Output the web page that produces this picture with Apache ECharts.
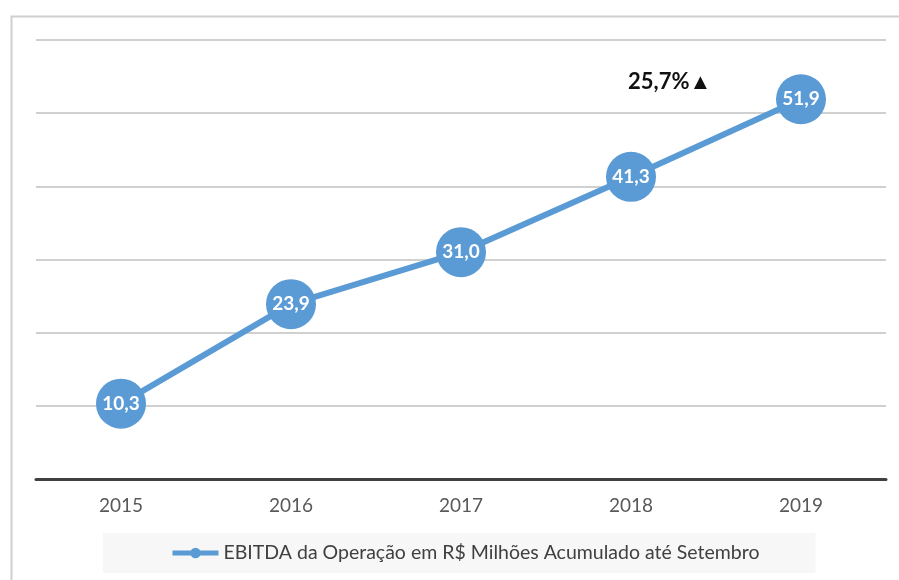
<!DOCTYPE html>
<html>
<head>
<meta charset="utf-8">
<script src="https://cdn.jsdelivr.net/npm/echarts@6/dist/echarts.min.js"></script>
<style>
  html, body { margin: 0; padding: 0; background: #fff; }
  #chart { width: 899px; height: 580px; }
</style>
</head>
<body>
<div id="chart"></div>
<script>
const years  = ["2015", "2016", "2017", "2018", "2019"];
const ebitda = [10.3, 23.9, 31.0, 41.3, 51.9];
const seriesName = "EBITDA da Operação em R$ Milhões Acumulado até Setembro";
const growthLabel = "25,7%▲";

const FONT = "Lato, 'Open Sans', sans-serif";
const BLUE = "#5b9bd5";

const chart = echarts.init(document.getElementById("chart"), null, { renderer: "canvas" });

chart.setOption({
  backgroundColor: "#fff",
  animation: false,
  grid: { left: 36, right: 13, top: 40, bottom: 101 },
  xAxis: {
    type: "category",
    data: years,
    boundaryGap: true,
    axisLine: { lineStyle: { color: "#404040", width: 3 } },
    axisTick: { show: false },
    axisLabel: { color: "#595959", fontSize: 19, fontFamily: FONT, margin: 17 },
  },
  yAxis: {
    type: "value",
    min: 0,
    max: 60,
    interval: 10,
    axisLabel: { show: false },
    axisLine: { show: false },
    axisTick: { show: false },
    splitLine: { lineStyle: { color: "#c0c0c0", width: 1.5 } },
  },
  legend: {
    bottom: 7,
    left: 103,
    data: [seriesName],
    backgroundColor: "#f7f7f7",
    padding: [10, 56, 10, 67],
    itemWidth: 46,
    itemHeight: 13,
    itemGap: 4,
    lineStyle: { width: 5 },
    textStyle: { color: "#404040", fontSize: 19.5, fontFamily: FONT },
  },
  graphic: [
    {
      type: "rect",
      left: 9, top: 14,
      shape: { width: 920, height: 600 },
      style: { fill: "none", stroke: "#cfcfcf", lineWidth: 2 },
      silent: true,
      z: -1,
    },
    {
      type: "text",
      left: 628, top: 71,
      style: { text: growthLabel, fill: "#111", font: "bold 22px " + FONT },
    },
  ],
  series: [
    {
      name: seriesName,
      type: "line",
      data: ebitda,
      symbol: "circle",
      symbolSize: 50,
      lineStyle: { color: BLUE, width: 6 },
      itemStyle: { color: BLUE },
      label: {
        show: true,
        position: "inside",
        color: "#fff",
        fontSize: 19,
        fontWeight: "bold",
        fontFamily: FONT,
        formatter: (p) => p.value.toFixed(1).replace(".", ","),
      },
    },
  ],
});
</script>
</body>
</html>
